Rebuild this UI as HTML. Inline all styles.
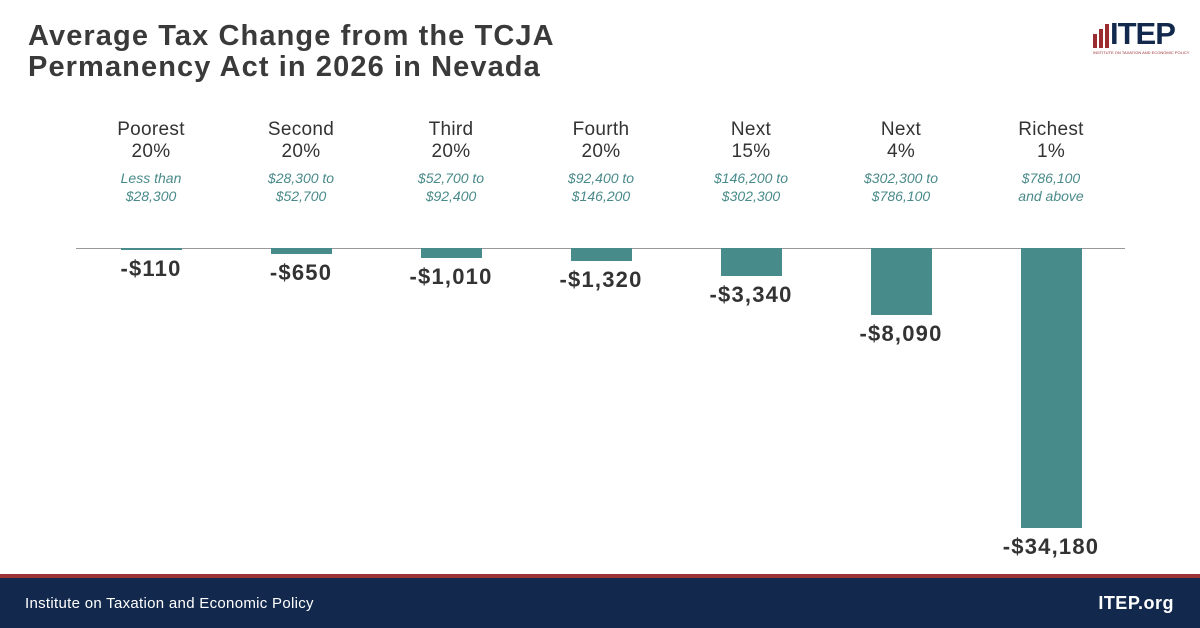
<!DOCTYPE html>
<html><head><meta charset="utf-8"><style>
*{margin:0;padding:0}
body{width:1200px;height:628px;position:relative;background:#fff;font-family:"Liberation Sans",sans-serif;overflow:hidden}
.t{position:absolute;left:28px;top:21px;font-size:29px;font-weight:bold;color:#3a3a3a;line-height:31px;letter-spacing:1.1px}
.h{position:absolute;width:150px;text-align:center;color:#333;font-size:19px;line-height:22px;top:119px;letter-spacing:0.3px}
.s{position:absolute;width:150px;text-align:center;color:#4a8a8a;font-size:14px;font-style:italic;line-height:18px;top:169px}
.b{position:absolute;width:61px;background:#488b8b;top:248px}
.v{position:absolute;width:150px;text-align:center;font-weight:bold;font-size:22px;color:#333;letter-spacing:1.2px}
</style></head><body>
<div class="t">Average Tax Change from the TCJA<br>Permanency Act in 2026 in Nevada</div>
<div style="position:absolute;left:1093px;top:34px;width:4px;height:14px;background:#9b2d30"></div>
<div style="position:absolute;left:1099px;top:29px;width:4px;height:19px;background:#9b2d30"></div>
<div style="position:absolute;left:1105px;top:24px;width:4px;height:24px;background:#9b2d30"></div>
<div style="position:absolute;left:1110px;top:17px;font-size:31px;font-weight:bold;color:#12294d;line-height:33px;letter-spacing:-1px">ITEP</div>
<div style="position:absolute;left:1093px;top:50px;font-size:4px;color:#9b2d30;white-space:nowrap">INSTITUTE ON TAXATION AND ECONOMIC POLICY</div>
<div style="position:absolute;left:76px;top:248px;width:1049px;height:1px;background:#999"></div>

<div class="h" style="left:76px">Poorest<br>20%</div><div class="s" style="left:76px">Less than<br>$28,300</div>
<div class="h" style="left:226px">Second<br>20%</div><div class="s" style="left:226px">$28,300 to<br>$52,700</div>
<div class="h" style="left:376px">Third<br>20%</div><div class="s" style="left:376px">$52,700 to<br>$92,400</div>
<div class="h" style="left:526px">Fourth<br>20%</div><div class="s" style="left:526px">$92,400 to<br>$146,200</div>
<div class="h" style="left:676px">Next<br>15%</div><div class="s" style="left:676px">$146,200 to<br>$302,300</div>
<div class="h" style="left:826px">Next<br>4%</div><div class="s" style="left:826px">$302,300 to<br>$786,100</div>
<div class="h" style="left:976px">Richest<br>1%</div><div class="s" style="left:976px">$786,100<br>and above</div>

<div class="b" style="left:121px;height:2px"></div><div class="v" style="left:76px;top:256px">-$110</div>
<div class="b" style="left:271px;height:6px"></div><div class="v" style="left:226px;top:260px">-$650</div>
<div class="b" style="left:421px;height:10px"></div><div class="v" style="left:376px;top:264px">-$1,010</div>
<div class="b" style="left:571px;height:13px"></div><div class="v" style="left:526px;top:267px">-$1,320</div>
<div class="b" style="left:721px;height:28px"></div><div class="v" style="left:676px;top:282px">-$3,340</div>
<div class="b" style="left:871px;height:67px"></div><div class="v" style="left:826px;top:321px">-$8,090</div>
<div class="b" style="left:1021px;height:280px"></div><div class="v" style="left:976px;top:534px">-$34,180</div>

<div style="position:absolute;left:0;top:574px;width:1200px;height:4px;background:#9b3235"></div>
<div style="position:absolute;left:0;top:578px;width:1200px;height:50px;background:#12294d"></div>
<div style="position:absolute;left:25px;top:595px;font-size:15px;color:#fff;letter-spacing:0.3px">Institute on Taxation and Economic Policy</div>
<div style="position:absolute;right:26px;top:593px;font-size:18px;font-weight:bold;color:#fff;letter-spacing:0.5px">ITEP.org</div>
</body></html>
